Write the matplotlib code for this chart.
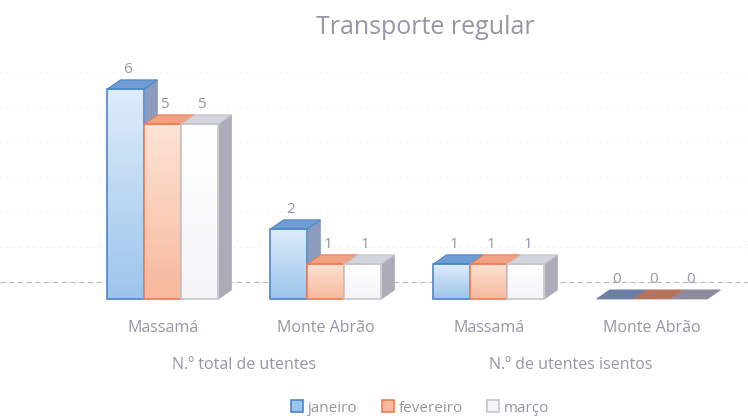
import matplotlib.pyplot as plt
import numpy as np
from matplotlib.patches import Polygon, Rectangle
from matplotlib.colors import LinearSegmentedColormap

categories = ['Massamá', 'Monte Abrão', 'Massamá', 'Monte Abrão']
groups = ['N.º total de utentes', 'N.º de utentes isentos']
months = ['janeiro', 'fevereiro', 'março']
janeiro = [6, 2, 1, 0]
fevereiro = [5, 1, 1, 0]
marco = [5, 1, 1, 0]
series = [janeiro, fevereiro, marco]

# front top, front bottom, edge, side, top, flat (zero bar)
styles = [
    ('#dfecfa', '#9cc5ec', '#4a86c8', '#8c9cbd', '#6f9dd3', '#6b7fa6'),
    ('#fde3d6', '#f8b89c', '#ee7c52', '#c99c8c', '#f2a284', '#b4735a'),
    ('#ffffff', '#f5f5f8', '#c4c4cc', '#acabb8', '#d4d4dc', '#8e8c9c'),
]

txt = '#9696a6'
plt.rcParams['font.family'] = ['Open Sans', 'DejaVu Sans']

fig = plt.figure(figsize=(7.48, 4.2), dpi=100)
ax = fig.add_axes([0, 0, 1, 1])
ax.axis('off')

w = 0.227      # bar width (category units)
dx = 0.08      # depth offset x
dy = 0.26      # depth offset y
floor = 0.486  # back floor line

# back wall gridlines and floor
for g in range(1, 7):
    ax.axhline(floor + g, color='#f0f0f4' if g > 1 else '#e2e2ea', lw=0.8, ls=(0, (1, 5)), zorder=0)
ax.axhline(floor, color='#b8b8c8', lw=0.9, ls=(0, (4, 3)), zorder=0)

grad = np.linspace(0, 1, 256).reshape(-1, 1)
z = 1
for i in range(len(categories)):
    for k, vals in enumerate(series):
        v = vals[i]
        ft, fb, ec, sc, tc, flat = styles[k]
        x0 = i + (k - 1.5) * w
        if v > 0:
            rect = Rectangle((x0, 0), w, v, facecolor='none', edgecolor=ec, lw=1.2, zorder=z + 0.2)
            ax.add_patch(rect)
            cm = LinearSegmentedColormap.from_list('g', [ft, fb])
            im = ax.imshow(grad, extent=[x0, x0 + w, 0, v], cmap=cm, aspect='auto', zorder=z)
            im.set_clip_path(rect)
            side = Polygon([(x0 + w, 0), (x0 + w + dx, dy), (x0 + w + dx, v + dy), (x0 + w, v)],
                           facecolor=sc, edgecolor=sc, lw=0.5, zorder=z - 0.1)
            top = Polygon([(x0, v), (x0 + w, v), (x0 + w + dx, v + dy), (x0 + dx, v + dy)],
                          facecolor=tc, edgecolor=ec, lw=0.8, zorder=z + 0.1)
            ax.add_patch(side)
            ax.add_patch(top)
        else:
            top = Polygon([(x0, v), (x0 + w, v), (x0 + w + dx, v + dy), (x0 + dx, v + dy)],
                          facecolor=flat, edgecolor=flat, lw=0.5, zorder=z)
            ax.add_patch(top)
        ax.text(x0 + w / 2 + 0.01, v + dy + 0.08, str(v), ha='center', va='bottom',
                fontsize=11, color=txt, zorder=20)
        z += 1

for i, c in enumerate(categories):
    ax.text(i, -0.83, c, ha='center', va='center', fontsize=11.5, color=txt)
for j, g in enumerate(groups):
    ax.text(2 * j + 0.5, -1.89, g, ha='center', va='center', fontsize=11.5, color=txt)

ax.set_xlim(-1.0, 3.589)
ax.set_ylim(-3.457, 8.543)

handles = [Rectangle((0, 0), 1, 1, facecolor=s[1], edgecolor=s[2], lw=1.2) for s in styles]
leg = fig.legend(handles, months, loc='center', bbox_to_anchor=(420 / 748, 1 - 408 / 420),
                 ncol=3, frameon=False, fontsize=11, handlelength=0.8, handleheight=0.8,
                 handletextpad=0.3, columnspacing=1.6)
for t in leg.get_texts():
    t.set_color(txt)

fig.text(425 / 748, 1 - 28 / 420, 'Transporte regular', ha='center', va='center',
         fontsize=18, color=txt)

fig.savefig('out.png', dpi=100)
